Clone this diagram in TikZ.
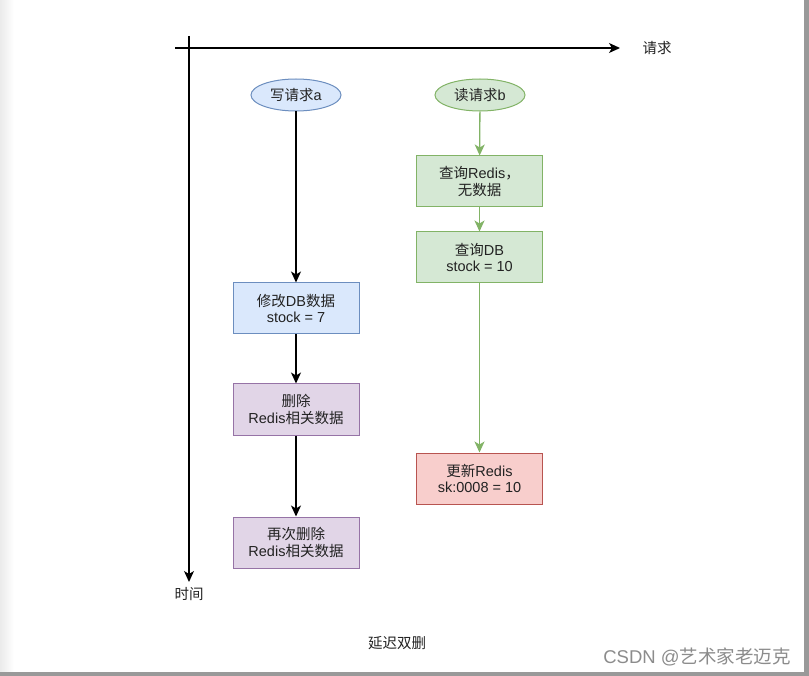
\documentclass[tikz,border=0pt]{standalone}
\usepackage{fontspec}
\setmainfont{Liberation Sans}
\newfontfamily\cjk{Noto Sans CJK SC}
\newcommand{\zh}[1]{{\cjk #1}}
\usetikzlibrary{arrows.meta,shapes.geometric}
\definecolor{bluefill}{HTML}{DAE8FC}
\definecolor{bluedraw}{HTML}{6C8EBF}
\definecolor{greenfill}{HTML}{D5E8D4}
\definecolor{greendraw}{HTML}{82B366}
\definecolor{purplefill}{HTML}{E1D5E7}
\definecolor{purpledraw}{HTML}{9673A6}
\definecolor{redfill}{HTML}{F8CECC}
\definecolor{reddraw}{HTML}{B85450}
\definecolor{txt}{HTML}{222222}
\tikzset{
  lbl/.style={font=\fontsize{14.5}{16.5}\selectfont, text=txt, align=center, inner sep=0pt},
  boxnode/.style={lbl, draw, line width=1pt, minimum width=126pt, minimum height=51pt},
  ellnode/.style={lbl, draw, ellipse, line width=1pt, minimum width=90pt, minimum height=32pt},
  arr/.style={line width=1.3pt, -{Stealth[length=11pt,width=10pt,inset=3pt]}},
  garr/.style={line width=1.3pt, greendraw, -{Stealth[length=11pt,width=10pt,inset=3pt]}},
}
\begin{document}
\begin{tikzpicture}[x=1pt,y=-1pt]
\useasboundingbox (0,0) rectangle (809,676);
\fill[white] (0,0) rectangle (809,676);
% frame strips
\shade[left color=black!8, right color=white] (0,0) rectangle (14,676);
\fill[black!40] (804,0) rectangle (809,676);
\fill[black!40] (0,672) rectangle (809,676);

% axes
\coordinate (hs) at (175,48);
\coordinate (he) at (620,48);
\coordinate (vs) at (189,36);
\coordinate (ve) at (189,582);
\draw[arr] (hs) -- (he);
\draw[arr] (vs) -- (ve);
\node[lbl] (req) at (657,48) {\zh{请求}};
\node[lbl] (time) at (189,594) {\zh{时间}};

% write side
\node[ellnode, fill=bluefill, draw=bluedraw] (wa) at (296,95) {\zh{写请求}a};
\node[boxnode, fill=bluefill, draw=bluedraw] (mod) at (296,308.5) {\zh{修改}DB\zh{数据}\\stock = 7};
\node[boxnode, fill=purplefill, draw=purpledraw] (del1) at (296,409.5) {\zh{删除}\\Redis\zh{相关数据}};
\node[boxnode, fill=purplefill, draw=purpledraw] (del2) at (296,542.5) {\zh{再次删除}\\Redis\zh{相关数据}};
\draw[arr] (wa) -- (mod);
\draw[arr] (mod) -- (del1);
\draw[arr] (del1) -- (del2);

% read side
\node[ellnode, fill=greenfill, draw=greendraw] (rb) at (480,95) {\zh{读请求}b};
\node[boxnode, fill=greenfill, draw=greendraw] (qr) at (479.5,181.5) {\zh{查询}Redis\zh{，}\\\zh{无数据}};
\node[boxnode, fill=greenfill, draw=greendraw] (qdb) at (479.5,257.5) {\zh{查询}DB\\stock = 10};
\node[boxnode, fill=redfill, draw=reddraw] (upd) at (479.5,478.5) {\zh{更新}Redis\\sk:0008 = 10};
\draw[garr] (rb) -- (qr);
\draw[garr] (qr) -- (qdb);
\draw[garr] (qdb) -- (upd);

% captions
\node[lbl] (title) at (397,643) {\zh{延迟双删}};
\node[font=\fontsize{18.5}{20}\selectfont, text=black!45, inner sep=0pt] (wm) at (697,657) {CSDN @\zh{艺术家老迈克}};
\end{tikzpicture}
\end{document}
